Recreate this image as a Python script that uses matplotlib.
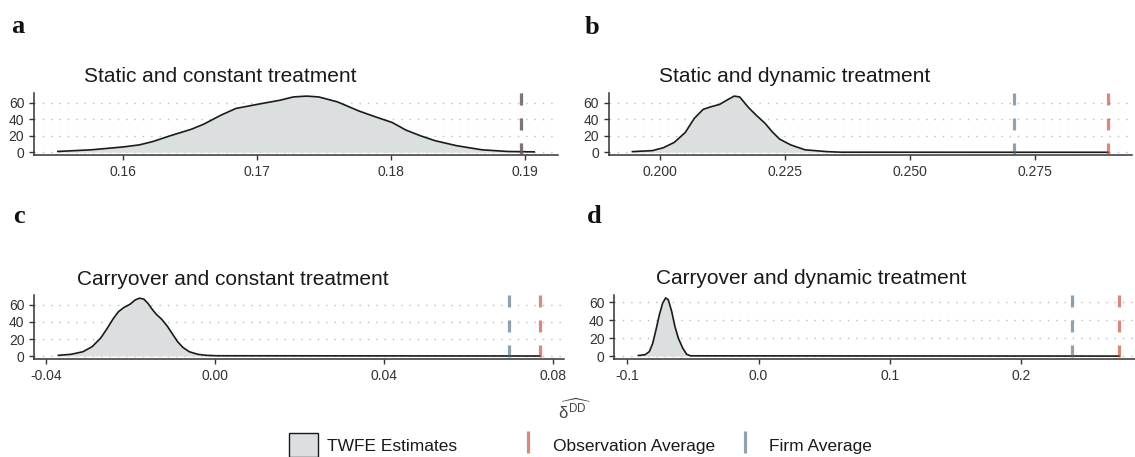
import matplotlib.pyplot as plt
from matplotlib.patches import Patch
from matplotlib.lines import Line2D

plt.rcParams['font.family'] = ['Liberation Sans', 'DejaVu Sans']
plt.rcParams['lines.scale_dashes'] = False
plt.rcParams['mathtext.fontset'] = 'custom'
plt.rcParams['mathtext.rm'] = 'Liberation Sans'
plt.rcParams['mathtext.it'] = 'Liberation Sans'

W, H = 1135, 457

# --- dados (densidade das estimativas TWFE)
titulos = ['Static and constant treatment', 'Static and dynamic treatment',
           'Carryover and constant treatment', 'Carryover and dynamic treatment']
letras = ['a', 'b', 'c', 'd']

x_a = [0.1551, 0.1576, 0.1600, 0.1612, 0.1622, 0.1635, 0.1651, 0.1660, 0.1673,
       0.1684, 0.1700, 0.1717, 0.1727, 0.1737, 0.1746, 0.1760, 0.1776, 0.1790,
       0.1801, 0.1811, 0.1822, 0.1833, 0.1849, 0.1868, 0.1887, 0.1907]
y_a = [1, 3, 6.5, 9, 13, 20, 28, 34, 45, 53, 58, 63, 67, 68, 67, 61, 50, 42,
       36, 27, 20, 14, 8, 3, 1, 0.5]
obs_a = 0.1897
firm_a = 0.1897
ticks_a = [0.16, 0.17, 0.18, 0.19]
labels_a = ['0.16', '0.17', '0.18', '0.19']

x_b = [0.1944, 0.1984, 0.2006, 0.2028, 0.2050, 0.2068, 0.2086, 0.2101, 0.2119,
       0.2133, 0.2148, 0.2159, 0.2177, 0.2192, 0.2210, 0.2224, 0.2239, 0.2261,
       0.2290, 0.2334, 0.2363, 0.2897]
y_b = [0.8, 2, 5.5, 12, 24, 41, 52, 55, 58, 63, 68, 67, 54, 45, 35, 25, 16, 9,
       3, 0.8, 0.1, 0]
obs_b = 0.2897
firm_b = 0.2709
ticks_b = [0.200, 0.225, 0.250, 0.275]
labels_b = ['0.200', '0.225', '0.250', '0.275']

x_c = [-0.0370, -0.0340, -0.0312, -0.0290, -0.0270, -0.0255, -0.0240, -0.0228,
       -0.0215, -0.0200, -0.0188, -0.0178, -0.0168, -0.0158, -0.0148, -0.0138,
       -0.0125, -0.0112, -0.0100, -0.0088, -0.0075, -0.0060, -0.0040, -0.0020,
       0.0005, 0.0770]
y_c = [0.8, 2, 5, 11, 21, 32, 44, 52, 57, 61, 66, 68, 67, 62, 55, 49, 43, 35,
       26, 17, 10, 5, 2, 0.8, 0.3, 0]
obs_c = 0.0770
firm_c = 0.0697
ticks_c = [-0.04, 0.00, 0.04, 0.08]
labels_c = ['-0.04', '0.00', '0.04', '0.08']

x_d = [-0.0916, -0.0865, -0.0832, -0.0807, -0.0782, -0.0756, -0.0731, -0.0708,
       -0.0688, -0.0662, -0.0637, -0.0611, -0.0578, -0.0548, -0.0517, 0.2747]
y_d = [0.7, 1.5, 5, 14, 29, 46, 59, 65, 63, 50, 33, 20, 9, 2, 0.3, 0]
obs_d = 0.2747
firm_d = 0.2386
ticks_d = [-0.1, 0.0, 0.1, 0.2]
labels_d = ['-0.1', '0.0', '0.1', '0.2']

y_ticks = [0, 20, 40, 60]

cor_fill = '#dcdfdf'
cor_linha = '#1a1a1a'
cor_obs = '#c0392b'
cor_firm = '#46627a'


def desenha(ax, x, y, obs, firm, ticks, labels):
    lo = min(x + [obs, firm])
    hi = max(x + [obs, firm])
    r = hi - lo
    pico = max(y)
    ax.set_xlim(lo - 0.05 * r, hi + 0.05 * r)
    ax.set_ylim(-0.05 * pico, 1.05 * pico)
    ax.yaxis.grid(True, color='#bcbcbc', lw=1.0, ls=(0, (1, 5)))
    ax.set_axisbelow(True)
    ax.fill_between(x, y, 0, color=cor_fill, lw=0, zorder=2)
    ax.plot(x, y, color=cor_linha, lw=1.2, solid_joinstyle='round', zorder=3)
    y0, y1 = ax.get_ylim()
    # vermelho primeiro, azul por cima (no painel a ficam sobrepostas)
    ax.plot([obs, obs], [y1, y0], color=cor_obs, alpha=0.6, lw=2.3,
            ls=(0, (8.6, 9.4)), zorder=4)
    ax.plot([firm, firm], [y1, y0], color=cor_firm, alpha=0.6, lw=2.3,
            ls=(0, (8.6, 9.4)), zorder=4)
    ax.set_xticks(ticks)
    ax.set_xticklabels(labels)
    ax.set_yticks(y_ticks)
    for s in ['top', 'right']:
        ax.spines[s].set_visible(False)
    for s in ['left', 'bottom']:
        ax.spines[s].set_color('#333333')
        ax.spines[s].set_linewidth(1.1)
    ax.tick_params(length=3.5, width=1.0, color='#333333', labelsize=10,
                   labelcolor='#333333', pad=3.5)
    ax.set_facecolor('none')


fig = plt.figure(figsize=(W / 100, H / 100), dpi=100)


def caixa(l, t, r, b):
    return [l / W, 1 - b / H, (r - l) / W, (b - t) / H]


ax_a = fig.add_axes(caixa(34, 93.3, 558, 155.1))
ax_b = fig.add_axes(caixa(608.6, 93.3, 1131.7, 155.1))
ax_c = fig.add_axes(caixa(34.3, 295.3, 564, 358.9))
ax_d = fig.add_axes(caixa(614.3, 295, 1143, 359))

desenha(ax_a, x_a, y_a, obs_a, firm_a, ticks_a, labels_a)
desenha(ax_b, x_b, y_b, obs_b, firm_b, ticks_b, labels_b)
desenha(ax_c, x_c, y_c, obs_c, firm_c, ticks_c, labels_c)
desenha(ax_d, x_d, y_d, obs_d, firm_d, ticks_d, labels_d)

# titulos e letras dos paineis
pos_titulo = [(84, 82), (659, 82), (77, 285), (656, 284)]
pos_letra = [(11, 33), (585, 34), (13, 223), (587, 223)]
for i in range(4):
    fig.text(pos_titulo[i][0] / W, 1 - pos_titulo[i][1] / H, titulos[i],
             fontsize=15, color='#1a1a1a', va='baseline', ha='left')
    fig.text(pos_letra[i][0] / W, 1 - pos_letra[i][1] / H, letras[i],
             fontsize=19, fontweight='bold', family='Liberation Serif',
             color='#111111', va='baseline', ha='left')

# rotulo do eixo x
fig.text(575 / W, 1 - 410 / H, r'$\widehat{\delta^{\mathrm{DD}}}$', fontsize=12,
         color='#444444', ha='center', va='center')

# legenda
itens = [
    (Patch(facecolor=cor_fill, edgecolor=cor_linha, lw=1.0), 'TWFE Estimates', 288.7),
    (Line2D([0], [0], color=cor_obs, alpha=0.6, ls='none', marker='|',
            markersize=16, mew=2.3), 'Observation Average', 514),
    (Line2D([0], [0], color=cor_firm, alpha=0.6, ls='none', marker='|',
            markersize=16, mew=2.3), 'Firm Average', 730.5),
]
for h, txt, xl in itens:
    fig.legend(handles=[h], labels=[txt], loc='center left',
               bbox_to_anchor=(xl / W, 1 - 445 / H), frameon=False,
               borderpad=0, borderaxespad=0, handlelength=1.67,
               handleheight=1.67, handletextpad=0.55, fontsize=12.5,
               labelcolor='#1a1a1a')

fig.savefig('out.png', dpi=100)
